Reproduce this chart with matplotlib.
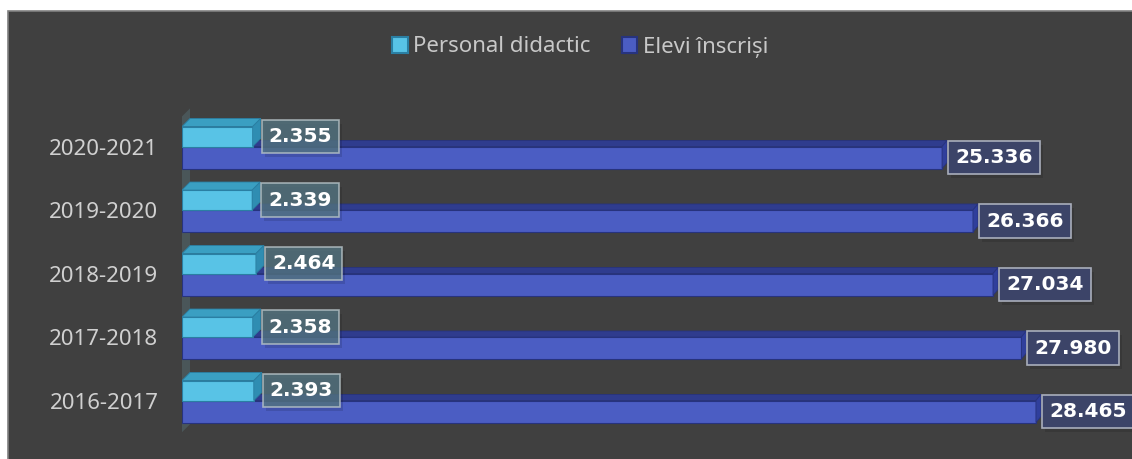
import matplotlib
matplotlib.use('Agg')
import matplotlib.pyplot as plt
from matplotlib.patches import Rectangle, Patch

plt.rcParams['font.family'] = ['Noto Sans', 'DejaVu Sans']

# data (bottom to top)
years = ['2016-2017', '2017-2018', '2018-2019', '2019-2020', '2020-2021']
personal = [2393, 2358, 2464, 2339, 2355]
elevi = [28465, 27980, 27034, 26366, 25336]
series_names = ['Personal didactic', 'Elevi înscriși']

W, H = 1132, 459
fig = plt.figure(figsize=(W / 100, H / 100), dpi=100)
fig.patch.set_facecolor('white')
fig.patches.append(Rectangle((8 / W, -0.01), 1.0, (H - 11) / H + 0.01,
                             transform=fig.transFigure, fc='#404040',
                             ec='#808080', lw=1.2, zorder=-10))

# axes placed so that x=0 sits at px 182 and 0.03 px per unit
ax = fig.add_axes([182 / W, 0.0306, 945 / W, 0.7332])
ax.set_facecolor('none')
ax.set_xlim(0, 31500)
ax.set_ylim(-0.7, 4.6)

ux = 1 / 0.03      # data units per pixel in x
uy = 1 / 63.5      # data units per pixel in y

cyan_h, blue_h = 20 * uy, 22 * uy


def bar3d(y0, h, v, face, top, side, edge, dx, dy, z):
    ax.barh(y0, v, height=h, align='edge', color=face, edgecolor=edge, lw=0.8, zorder=z)
    ax.fill([0, v, v + dx, dx], [y0 + h, y0 + h, y0 + h + dy, y0 + h + dy],
            color=top, ec=edge, lw=0.6, zorder=z)
    ax.fill([v, v + dx, v + dx, v], [y0, y0 + dy, y0 + h + dy, y0 + h],
            color=side, ec=edge, lw=0.6, zorder=z)


# left wall
ax.fill([0, 8 * ux, 8 * ux, 0], [-0.5, -0.5 + 8 * uy, 4.6, 4.6 - 8 * uy],
        color='#4a5659', lw=0, zorder=1)

for i in range(len(years)):
    bar3d(i - blue_h, blue_h, elevi[i], '#4b5dc3', '#2f3c8e', '#303f9c', '#27337e',
          5 * ux, 6 * uy, 2)
for i in range(len(years)):
    bar3d(i, cyan_h, personal[i], '#58c3e6', '#3a9fc2', '#2f8db2', '#2a7fa3',
          8 * ux, 8 * uy, 3)


def fmt(v):
    return f'{v:,}'.replace(',', '.')


lbl = dict(color='white', fontsize=14.5, fontweight='bold', family='DejaVu Sans',
           va='center', ha='left')
for i in range(len(years)):
    # soft shadow behind the boxes
    ax.text(personal[i] + 19 * ux, i + cyan_h / 2 - 4 * uy, fmt(personal[i]), alpha=0,
            bbox=dict(boxstyle='square,pad=0.35', fc='black', ec='none', alpha=0.12),
            zorder=5, **lbl)
    ax.text(elevi[i] + 16 * ux, i - blue_h / 2 - 4 * uy, fmt(elevi[i]), alpha=0,
            bbox=dict(boxstyle='square,pad=0.35', fc='black', ec='none', alpha=0.12),
            zorder=5, **lbl)
    ax.text(personal[i] + 16 * ux, i + cyan_h / 2, fmt(personal[i]), zorder=6,
            bbox=dict(boxstyle='square,pad=0.35', fc='#537481', ec='#b8c4c8', lw=1.2, alpha=0.8),
            **lbl)
    ax.text(elevi[i] + 13 * ux, i - blue_h / 2, fmt(elevi[i]), zorder=6,
            bbox=dict(boxstyle='square,pad=0.35', fc='#3c4468', ec='#a9aebb', lw=1.2),
            **lbl)

ax.set_yticks(range(len(years)))
ax.set_yticklabels(years, fontsize=16, color='#d0d0d0')
ax.tick_params(axis='y', length=0, pad=17)
ax.set_xticks([])
for s in ax.spines.values():
    s.set_visible(False)

handles = [Patch(fc='#58c3e6', ec='#2a7fa3', lw=1.5),
           Patch(fc='#4b5dc3', ec='#27337e', lw=1.5)]
fig.legend(handles, series_names, loc='center', bbox_to_anchor=(580 / W, 1 - 47 / H),
           ncol=2, frameon=False, fontsize=16, labelcolor='#c8c8c8',
           handlelength=0.7, handleheight=0.7, handletextpad=0.25, columnspacing=1.4)

fig.savefig('out.png', dpi=100, facecolor='white')
